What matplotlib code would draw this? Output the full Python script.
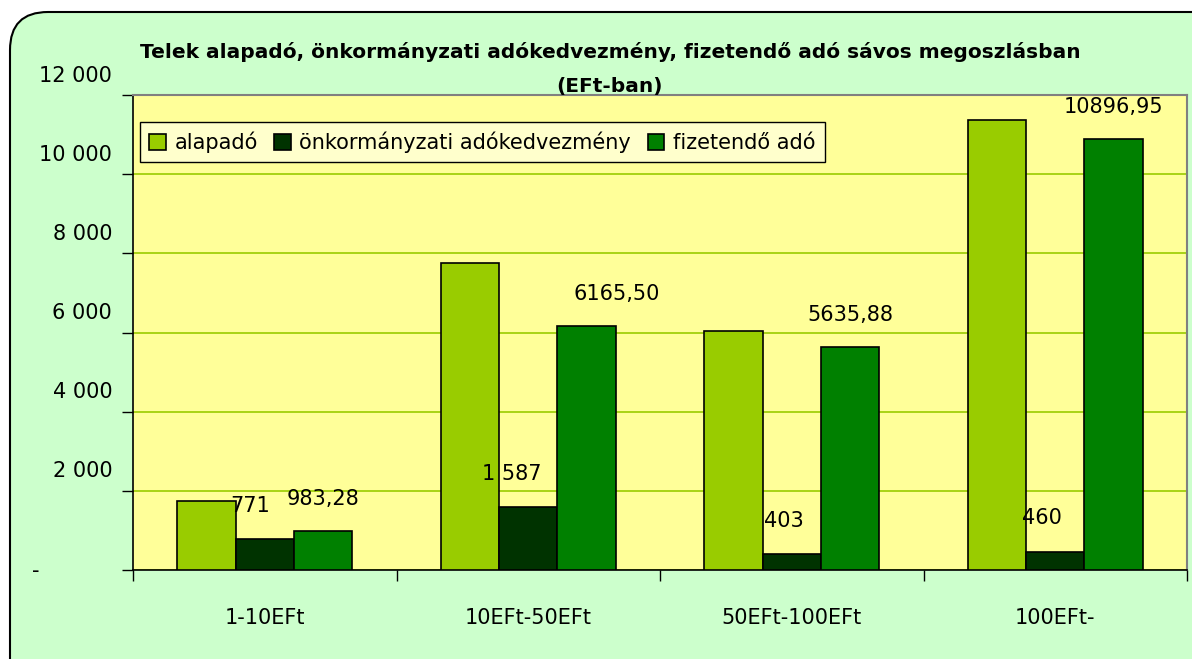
import numpy as np
import matplotlib.pyplot as plt
import matplotlib.patches as mpatches
from matplotlib.transforms import IdentityTransform

# Data
categories = ['1-10EFt', '10EFt-50EFt', '50EFt-100EFt', '100EFt-']
alapado = [1754.28, 7752.50, 6038.88, 11356.95]
kedvezmeny = [771, 1587, 403, 460]
fizetendo = [983.28, 6165.50, 5635.88, 10896.95]
series_names = ['alapadó', 'önkormányzati adókedvezmény', 'fizetendő adó']
y_ticks = [0, 2000, 4000, 6000, 8000, 10000, 12000]
y_tick_labels = ['-', '2 000', '4 000', '6 000', '8 000', '10 000', '12 000']

colors = ['#99CC00', '#003300', '#008000']
# labels were nudged by hand in the original (pixels)
ked_dx = [-15, -17, -8, -13]
fiz_dx = [0, 30, 0, 0]

plt.rcParams['font.family'] = ['DejaVu Sans']

fig = plt.figure(figsize=(11.92, 6.59), dpi=100, facecolor='white')

# rounded chart frame
frame = mpatches.FancyBboxPatch((10, -40), 1220, 647 + 40, boxstyle='round,pad=0,rounding_size=38',
                                transform=IdentityTransform(), facecolor='#CCFFCC',
                                edgecolor='black', linewidth=1.5, zorder=-10)
fig.patches.append(frame)

ax = fig.add_axes([133 / 1192, 89 / 659, 1054 / 1192, 475 / 659])
ax.set_facecolor('#FFFF99')

x = np.arange(len(categories))
w = 0.222
ax.bar(x - w, alapado, w, color=colors[0], edgecolor='black', linewidth=1.2, label=series_names[0], zorder=3)
ax.bar(x, kedvezmeny, w, color=colors[1], edgecolor='black', linewidth=1.2, label=series_names[1], zorder=3)
ax.bar(x + w, fizetendo, w, color=colors[2], edgecolor='black', linewidth=1.2, label=series_names[2], zorder=3)

px = 72 / 100
for xi, v, dx in zip(x, kedvezmeny, ked_dx):
    ax.annotate(f'{v:,.0f}'.replace(',', ' '), (xi, v), xytext=(dx * px, 24), textcoords='offset points',
                ha='center', va='center', fontsize=15, zorder=5)
for xi, v, dx in zip(x + w, fizetendo, fiz_dx):
    ax.annotate(f'{v:.2f}'.replace('.', ','), (xi, v), xytext=(dx * px, 23), textcoords='offset points',
                ha='center', va='center', fontsize=15, zorder=5)

ax.set_ylim(0, 12000)
ax.set_xlim(-0.5, len(categories) - 0.5)
ax.set_yticks(y_ticks)
ax.set_yticklabels([])
ax.tick_params(axis='y', length=8, width=1, direction='out')
ax.grid(axis='y', color='#99CC00', linewidth=1.2, zorder=1)
ax.set_axisbelow(True)

# y labels sit above their gridlines, as in the original; the zero dash is left aligned
for v, lab in zip(y_ticks, y_tick_labels):
    if v == 0:
        ax.annotate(lab, (0, v), xycoords=ax.get_yaxis_transform(), xytext=(-97 * px, -1),
                    textcoords='offset points', ha='center', va='center', fontsize=15)
    else:
        ax.annotate(lab, (0, v), xycoords=ax.get_yaxis_transform(), xytext=(-15, 14),
                    textcoords='offset points', ha='right', va='center', fontsize=15)

ax.set_xticks(x)
ax.set_xticklabels(categories, fontsize=15)
ax.tick_params(axis='x', which='major', length=0, pad=27)
ax.set_xticks(np.arange(-0.5, len(categories)), minor=True)
ax.tick_params(axis='x', which='minor', length=8, width=1, direction='out')

for s in ['top', 'right']:
    ax.spines[s].set_color('#808080')
    ax.spines[s].set_linewidth(1.5)
for s in ['left', 'bottom']:
    ax.spines[s].set_color('black')
    ax.spines[s].set_linewidth(1.2)

leg = ax.legend(loc='upper left', bbox_to_anchor=(0.0066, 0.943), ncol=3, fontsize=15,
                frameon=True, fancybox=False, borderaxespad=0, handlelength=0.8,
                handleheight=0.8, handletextpad=0.4, columnspacing=0.8, borderpad=0.45)
leg.get_frame().set_facecolor('#FFFFCC')
leg.get_frame().set_edgecolor('black')
leg.get_frame().set_alpha(1)
leg.get_frame().set_linewidth(1)

fig.text(610 / 1192, 1 - 69 / 659,
         'Telek alapadó, önkormányzati adókedvezmény, fizetendő adó sávos megoszlásban\n(EFt-ban)',
         ha='center', va='center', fontsize=14.5, fontweight='bold', linespacing=2.0, zorder=5)

fig.savefig('out.png', dpi=100, facecolor=fig.get_facecolor())
